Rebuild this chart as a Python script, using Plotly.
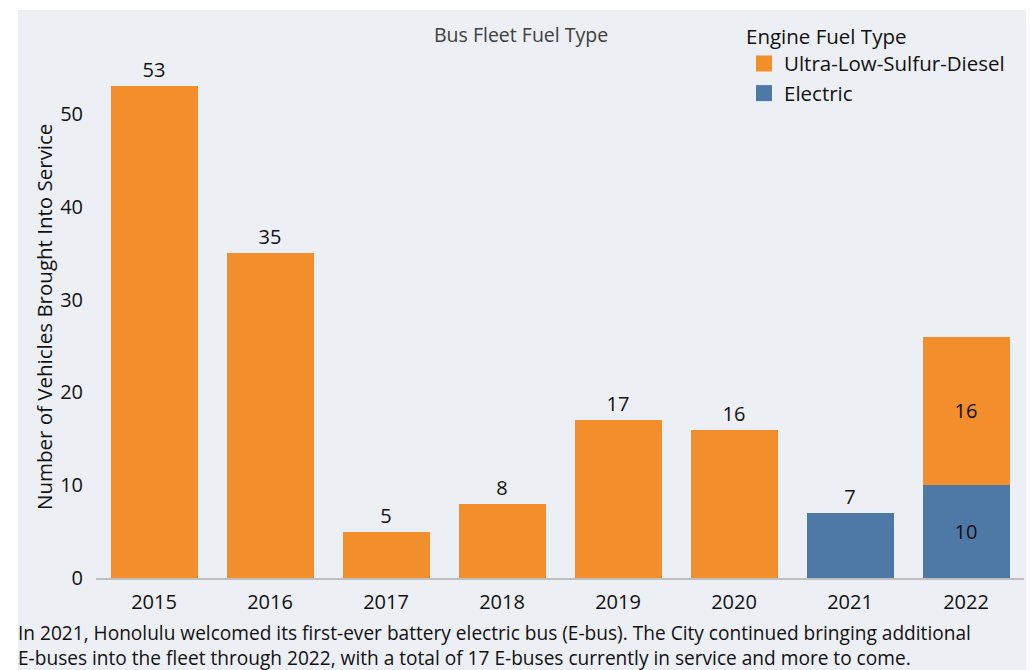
import plotly.graph_objects as go

years = ["2015", "2016", "2017", "2018", "2019", "2020", "2021", "2022"]
diesel = [53, 35, 5, 8, 17, 16, None, 16]
electric = [None, None, None, None, None, None, 7, 10]
diesel_pos = ["outside"] * 6 + ["none", "inside"]
electric_pos = ["none"] * 6 + ["outside", "inside"]

caption_lines = [
    "In 2021, Honolulu welcomed its first-ever battery electric bus (E-bus). The City continued bringing additional",
    "E-buses into the fleet through 2022, with a total of 17 E-buses currently in service and more to come.",
]

ORANGE = "#F28E2B"
BLUE = "#4E79A7"
BG = "#ECEFF3"
FONT = "Open Sans"
W, H = 1030, 670
ML, MR, MT, MB = 96, 6, 10, 92
PW, PH = W - ML - MR, H - MT - MB

def px_x(px):
    return (px - ML) / PW

def px_y(py):
    return (H - MB - py) / PH

fig = go.Figure()
# electric first so it sits at the bottom of the stack
fig.add_trace(go.Bar(
    x=years, y=electric, name="Electric", showlegend=False,
    marker=dict(color=BLUE, line=dict(width=0)),
    text=[("" if v is None else str(v)) for v in electric],
    textposition=electric_pos, textfont=dict(size=20, color="#111111", family=FONT),
    insidetextanchor="middle", cliponaxis=False, hoverinfo="skip",
))
fig.add_trace(go.Bar(
    x=years, y=diesel, name="Ultra-Low-Sulfur-Diesel", showlegend=False,
    marker=dict(color=ORANGE, line=dict(width=0)),
    text=[("" if v is None else str(v)) for v in diesel],
    textposition=diesel_pos, textfont=dict(size=20, color="#111111", family=FONT),
    insidetextanchor="middle", cliponaxis=False, hoverinfo="skip",
))
# legend entries with larger square swatches
for name, col in [("Ultra-Low-Sulfur-Diesel", ORANGE), ("Electric", BLUE)]:
    fig.add_trace(go.Scatter(
        x=[None], y=[None], mode="markers", name=name,
        marker=dict(symbol="square", size=16, color=col), hoverinfo="skip",
    ))

annotations = [
    dict(text="Bus Fleet Fuel Type", xref="paper", yref="paper",
         x=px_x(521), y=px_y(34), xanchor="center", yanchor="middle",
         showarrow=False, font=dict(size=19.5, family=FONT, color="#404040")),
    dict(text="Number of Vehicles Brought Into Service", xref="paper", yref="paper",
         x=px_x(44), y=px_y(317), xanchor="center", yanchor="middle", textangle=-90,
         showarrow=False, font=dict(size=20.5, family=FONT, color="#111111")),
    dict(text="<br>".join(caption_lines), xref="paper", yref="paper",
         x=px_x(17), y=px_y(619), xanchor="left", yanchor="top", align="left",
         showarrow=False, borderpad=0,
         font=dict(size=19.1, family=FONT, color="#111111")),
]

fig.update_layout(
    width=W, height=H,
    margin=dict(l=ML, r=MR, t=MT, b=MB),
    barmode="stack", bargap=0.25,
    paper_bgcolor="white", plot_bgcolor=BG,
    font=dict(family=FONT, size=20, color="#111111"),
    showlegend=True,
    legend=dict(
        x=px_x(744), y=px_y(17), xanchor="left", yanchor="top",
        bgcolor="rgba(0,0,0,0)", traceorder="normal", itemsizing="trace",
        title=dict(text="Engine Fuel Type", font=dict(size=20.5, family=FONT, color="#111111")),
        font=dict(size=20.5, family=FONT, color="#111111"),
        tracegroupgap=0, itemwidth=30,
    ),
    xaxis=dict(
        showgrid=False, showline=True, linecolor="#BFBFBF", linewidth=1.5,
        ticks="", tickfont=dict(size=20, family=FONT, color="#111111"),
        ticklabelstandoff=5, fixedrange=True,
    ),
    yaxis=dict(
        range=[0, 61.2], showgrid=False, showline=False, zeroline=False,
        tickvals=[0, 10, 20, 30, 40, 50], ticks="",
        tickfont=dict(size=20, family=FONT, color="#111111"),
        ticklabelstandoff=12, fixedrange=True,
    ),
    shapes=[
        dict(type="rect", xref="paper", yref="paper", layer="below",
             x0=px_x(18), x1=px_x(1026), y0=px_y(670), y1=px_y(10),
             fillcolor=BG, line=dict(width=0)),
    ],
    annotations=annotations,
)

fig.write_html("out.html", config={"displayModeBar": False},
               post_script="document.body.style.margin='0px';")
